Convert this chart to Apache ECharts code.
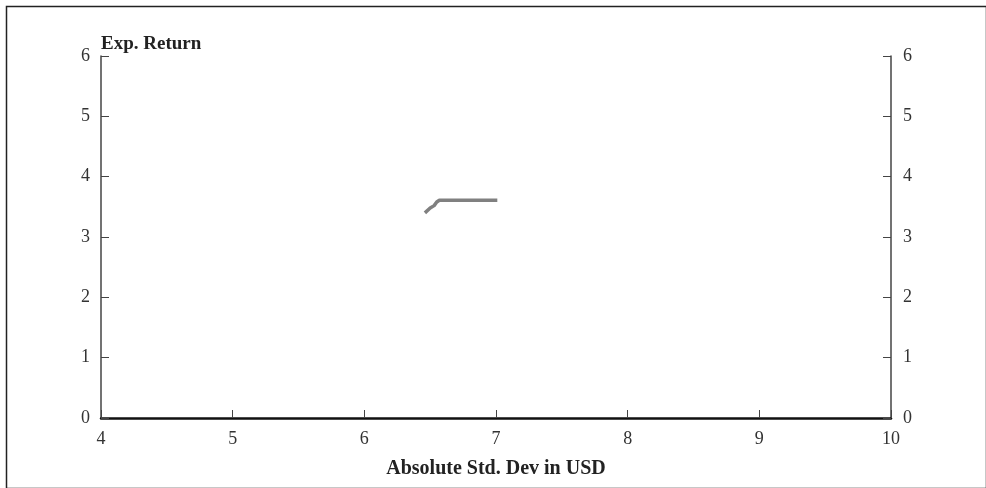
<!DOCTYPE html>
<html>
<head>
<meta charset="utf-8">
<script src="https://cdn.jsdelivr.net/npm/echarts@6/dist/echarts.min.js"></script>
<style>html,body{margin:0;padding:0;background:#fff}#c{width:986px;height:488px}</style>
</head>
<body>
<div id="c"></div>
<script>
var xValues = [6.46, 6.50, 6.53, 6.55, 6.57, 7.01];
var yValues = [3.40, 3.48, 3.52, 3.58, 3.61, 3.61];
var xTicks = [4, 5, 6, 7, 8, 9, 10];
var yTicks = [0, 1, 2, 3, 4, 5, 6];
var xName = 'Absolute Std. Dev in USD';
var yName = 'Exp. Return';

var font = '"Liberation Serif", "DejaVu Serif", serif';
var chart = echarts.init(document.getElementById('c'), null, {renderer: 'canvas'});
var pts = xValues.map(function (x, i) { return [x, yValues[i]]; });
var label = {color: '#333', fontFamily: font, fontSize: 18};
chart.setOption({
  animation: false,
  backgroundColor: '#fff',
  grid: {left: 101, right: 95, top: 56, bottom: 70, containLabel: false},
  xAxis: {
    type: 'value', min: xTicks[0], max: xTicks[xTicks.length - 1], interval: 1,
    name: xName, nameLocation: 'middle', nameGap: 41,
    nameTextStyle: {fontFamily: font, fontSize: 20, fontWeight: 'bold', color: '#222'},
    axisLine: {lineStyle: {color: '#111', width: 2.5}},
    axisTick: {inside: true, length: 8, lineStyle: {color: '#444', width: 1}},
    axisLabel: Object.assign({margin: 12}, label),
    splitLine: {show: false}
  },
  yAxis: [{
    type: 'value', min: yTicks[0], max: yTicks[yTicks.length - 1], interval: 1,
    position: 'left',
    name: yName, nameLocation: 'end', nameGap: 2,
    nameTextStyle: {fontFamily: font, fontSize: 19, fontWeight: 'bold', color: '#222', align: 'left'},
    axisLine: {show: true, lineStyle: {color: '#444', width: 1.5}},
    axisTick: {show: true, inside: true, length: 8, lineStyle: {color: '#444', width: 1}},
    axisLabel: Object.assign({margin: 11}, label),
    splitLine: {show: false}
  }, {
    type: 'value', min: yTicks[0], max: yTicks[yTicks.length - 1], interval: 1,
    position: 'right',
    axisLine: {show: true, lineStyle: {color: '#444', width: 1.5}},
    axisTick: {show: true, inside: true, length: 8, lineStyle: {color: '#444', width: 1}},
    axisLabel: Object.assign({margin: 12}, label),
    splitLine: {show: false}
  }],
  graphic: [{
    type: 'rect', left: 4, top: 4, shape: {width: 980, height: 482},
    style: {fill: 'none', stroke: '#222', lineWidth: 1.5}, silent: true
  }],
  series: [{
    type: 'line', data: pts, yAxisIndex: 0, showSymbol: false,
    lineStyle: {color: '#808080', width: 3.5}, itemStyle: {color: '#808080'}
  }]
});
</script>
</body>
</html>
